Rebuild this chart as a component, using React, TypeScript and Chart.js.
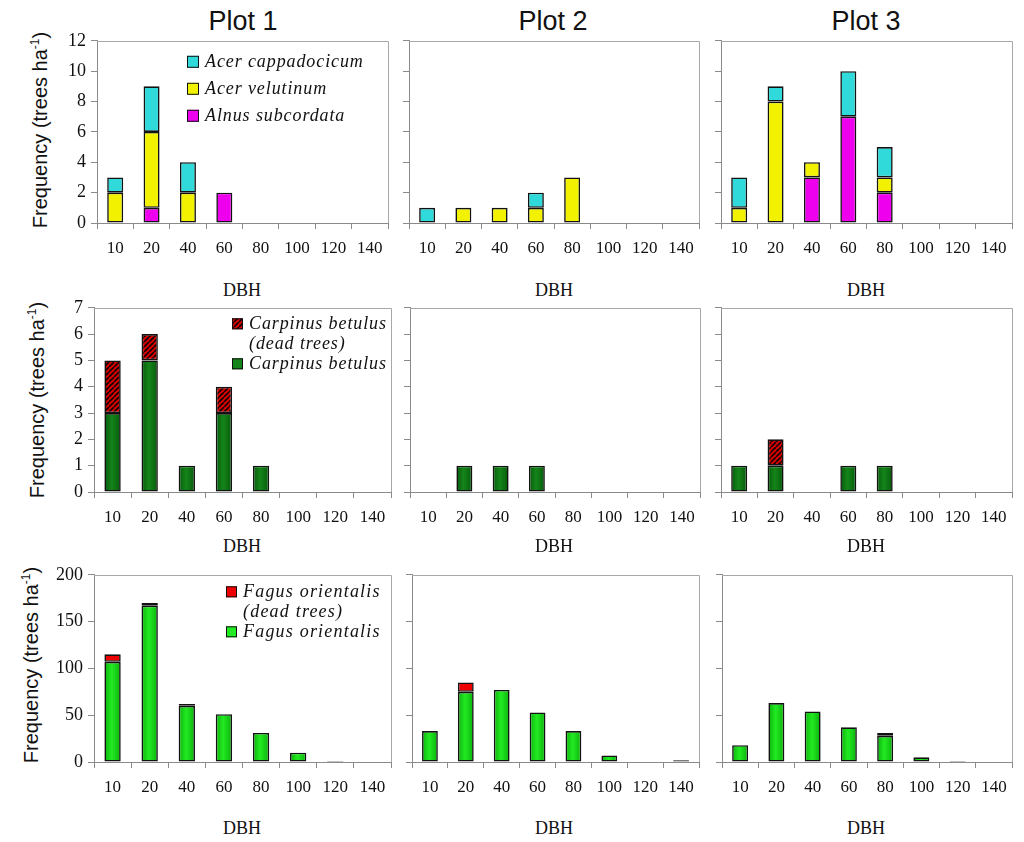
import React, { useEffect, useRef } from 'react';
import { Chart, registerables } from 'chart.js';

Chart.register(...registerables);

// DBH classes (cm), shared by all nine panels
const DBH_CLASSES = ['10', '20', '40', '60', '80', '100', '120', '140'];

// Row 1 - Acer / Alnus (trees ha-1)
const ALNUS_P1 = [0, 1, 0, 2, 0, 0, 0, 0];
const ALNUS_P2 = [0, 0, 0, 0, 0, 0, 0, 0];
const ALNUS_P3 = [0, 0, 3, 7, 2, 0, 0, 0];
const VELUTINUM_P1 = [2, 5, 2, 0, 0, 0, 0, 0];
const VELUTINUM_P2 = [0, 1, 1, 1, 3, 0, 0, 0];
const VELUTINUM_P3 = [1, 8, 1, 0, 1, 0, 0, 0];
const CAPPADOCICUM_P1 = [1, 3, 2, 0, 0, 0, 0, 0];
const CAPPADOCICUM_P2 = [1, 0, 0, 1, 0, 0, 0, 0];
const CAPPADOCICUM_P3 = [2, 1, 0, 3, 2, 0, 0, 0];

// Row 2 - Carpinus betulus, live and dead
const CARPINUS_P1 = [3, 5, 1, 3, 1, 0, 0, 0];
const CARPINUS_P2 = [0, 1, 1, 1, 0, 0, 0, 0];
const CARPINUS_P3 = [1, 1, 0, 1, 1, 0, 0, 0];
const CARPINUS_DEAD_P1 = [2, 1, 0, 1, 0, 0, 0, 0];
const CARPINUS_DEAD_P2 = [0, 0, 0, 0, 0, 0, 0, 0];
const CARPINUS_DEAD_P3 = [0, 1, 0, 0, 0, 0, 0, 0];

// Row 3 - Fagus orientalis, live and dead
const FAGUS_P1 = [107, 167, 60, 51, 31, 10, 1, 0];
const FAGUS_P2 = [33, 75, 77, 53, 33, 7, 0, 2];
const FAGUS_P3 = [18, 63, 54, 37, 28, 5, 1, 0];
const FAGUS_DEAD_P1 = [8, 3, 2, 0, 0, 0, 0, 0];
const FAGUS_DEAD_P2 = [0, 10, 0, 0, 0, 0, 0, 0];
const FAGUS_DEAD_P3 = [0, 0, 0, 0, 3, 0, 0, 0];

// y axis ranges per row
const ROW_Y_MAX = [12, 7, 200];
const ROW_Y_STEP = [2, 1, 50];

const PLOT_TITLES = ['Plot 1', 'Plot 2', 'Plot 3'];

// ---- look & layout ----
const SERIF = '"Liberation Serif", "Times New Roman", serif';
const SANS = '"Liberation Sans", Arial, sans-serif';
const INK = '#111';
const AXIS_GREY = '#8a8a8a';
const FRAME_GREY = '#a8a8a8';
const BAR_FRACTION = 0.44;

const PAD_L = 70; // room for the y axis
const PAD_T = 12;
const PAD_R = 14;
const AXIS_H = 44;

// plot areas [left, top, right, bottom], row by row
const PANEL_RECTS = [
  [[97, 37, 388, 223], [409, 37, 699, 223], [721, 37, 1012, 223]],
  [[94, 304, 391, 492], [410, 304, 700, 492], [721, 304, 1012, 492]],
  [[94, 571, 391, 762], [412, 571, 699, 762], [722, 571, 1012, 762]],
];

type Style = 'flat' | 'shaded' | 'hatch';
type Layer = { label: string; values: number[]; color: string; edge?: string; style: Style };
type LegendSpec = { x: number; y: number; lineHeight: number; box: number; spacing: number };

let hatchCache: CanvasPattern | null = null;
function hatch(): CanvasPattern | string {
  if (hatchCache) return hatchCache;
  const c = document.createElement('canvas');
  c.width = 5;
  c.height = 5;
  const g = c.getContext('2d');
  if (!g) return '#c00000';
  g.fillStyle = '#dc0000';
  g.fillRect(0, 0, 5, 5);
  g.strokeStyle = '#1a0202';
  g.lineWidth = 1.7;
  g.beginPath();
  for (const o of [-5, 0, 5]) {
    g.moveTo(o, 5);
    g.lineTo(o + 5, 0);
  }
  g.stroke();
  hatchCache = g.createPattern(c, 'repeat');
  return hatchCache ?? '#c00000';
}

// horizontal gradient across each bar, darker at the sides
function shaded(mid: string, edge: string) {
  return (ctx: any) => {
    const chart = ctx.chart;
    const x = chart.scales && chart.scales.x;
    if (!chart.chartArea || !x || ctx.type !== 'data') return mid;
    const cx = x.getPixelForValue(ctx.dataIndex);
    const half = ((x.width / DBH_CLASSES.length) * BAR_FRACTION) / 2;
    const g = chart.ctx.createLinearGradient(cx - half, 0, cx + half, 0);
    g.addColorStop(0, edge);
    g.addColorStop(0.45, mid);
    g.addColorStop(1, edge);
    return g;
  };
}

function fillFor(layer: Layer): any {
  if (layer.style === 'hatch') return hatch();
  if (layer.style === 'shaded' && layer.edge) return shaded(layer.color, layer.edge);
  return layer.color;
}

const frame = {
  id: 'frame',
  beforeDatasetsDraw(chart: any) {
    const { ctx, chartArea: a } = chart;
    ctx.save();
    ctx.strokeStyle = FRAME_GREY;
    ctx.lineWidth = 1;
    ctx.beginPath();
    ctx.moveTo(a.left, Math.round(a.top) + 0.5);
    ctx.lineTo(Math.round(a.right) + 0.5, Math.round(a.top) + 0.5);
    ctx.lineTo(Math.round(a.right) + 0.5, a.bottom);
    ctx.stroke();
    ctx.restore();
  },
};

function insideLegend(spec: LegendSpec, layers: Layer[]) {
  return {
    id: 'insideLegend',
    afterDatasetsDraw(chart: any) {
      const { ctx, chartArea } = chart;
      ctx.save();
      ctx.font = `italic 18px ${SERIF}`;
      ctx.textBaseline = 'middle';
      if ('letterSpacing' in ctx) ctx.letterSpacing = `${spec.spacing}px`;
      const bx = chartArea.left + spec.x;
      let y = chartArea.top + spec.y;
      for (const layer of layers) {
        ctx.fillStyle = layer.style === 'hatch' ? hatch() : layer.color;
        ctx.fillRect(bx, y - spec.box / 2, spec.box, spec.box);
        ctx.strokeStyle = INK;
        ctx.lineWidth = 1;
        ctx.strokeRect(bx + 0.5, y - spec.box / 2 + 0.5, spec.box - 1, spec.box - 1);
        ctx.fillStyle = INK;
        for (const line of layer.label.split('\n')) {
          ctx.fillText(line, bx + spec.box + 6, y);
          y += spec.lineHeight;
        }
      }
      ctx.restore();
    },
  };
}

interface PanelProps {
  rect: number[];
  layers: Layer[];
  yMax: number;
  yStep: number;
  showY: boolean;
  legend?: LegendSpec;
}

const Panel: React.FC<PanelProps> = ({ rect, layers, yMax, yStep, showY, legend }) => {
  const canvasRef = useRef<HTMLCanvasElement>(null);

  useEffect(() => {
    if (!canvasRef.current) return;
    const plugins: any[] = [frame];
    if (legend) plugins.push(insideLegend(legend, [...layers].reverse()));

    const chart = new Chart(canvasRef.current, {
      type: 'bar',
      data: {
        labels: DBH_CLASSES,
        datasets: layers.map((l) => ({
          label: l.label,
          data: l.values,
          backgroundColor: fillFor(l),
          borderColor: '#121212',
          borderWidth: 1.6,
          borderSkipped: false,
          barPercentage: BAR_FRACTION,
          categoryPercentage: 1,
        })),
      },
      options: {
        responsive: false,
        animation: false,
        events: [],
        layout: { padding: { top: PAD_T, right: PAD_R, left: 0, bottom: 0 } },
        plugins: { legend: { display: false }, tooltip: { enabled: false } },
        scales: {
          x: {
            stacked: true,
            offset: true,
            grid: { offset: true, drawOnChartArea: false, tickLength: 6, color: AXIS_GREY },
            border: { color: AXIS_GREY },
            ticks: { color: INK, font: { family: SERIF, size: 17 }, padding: 9, maxRotation: 0, autoSkip: false },
            afterFit: (s: any) => { s.height = AXIS_H; },
          },
          y: {
            stacked: true,
            min: 0,
            max: yMax,
            grid: { drawOnChartArea: false, tickLength: 6, color: AXIS_GREY },
            border: { color: AXIS_GREY },
            ticks: {
              stepSize: yStep,
              color: INK,
              font: { family: SERIF, size: 18 },
              padding: 5,
              callback: (v: any) => (showY ? v : ''),
            },
            afterFit: (s: any) => { s.width = PAD_L; },
          },
        },
      },
      plugins,
    });

    return () => chart.destroy();
  }, []);

  const [L, T, R, B] = rect;
  const w = R - L + PAD_L + PAD_R;
  const h = B - T + PAD_T + AXIS_H;
  return (
    <canvas
      ref={canvasRef}
      width={w}
      height={h}
      style={{ position: 'absolute', left: L - PAD_L, top: T - PAD_T, width: w, height: h }}
    />
  );
};

const Label: React.FC<{ x: number; y: number; font: string; rotate?: boolean; children: React.ReactNode }> = ({
  x, y, font, rotate, children,
}) => (
  <div
    style={{
      position: 'absolute',
      left: x,
      top: y,
      transform: `translate(-50%, -50%)${rotate ? ' rotate(-90deg)' : ''}`,
      whiteSpace: 'nowrap',
      font,
      color: INK,
      lineHeight: 1,
    }}
  >
    {children}
  </div>
);

const ROW_LAYERS: Layer[][][] = [
  [ALNUS_P1, ALNUS_P2, ALNUS_P3].map((alnus, i) => [
    { label: 'Alnus subcordata', values: alnus, color: '#ee00ee', style: 'flat' },
    { label: 'Acer velutinum', values: [VELUTINUM_P1, VELUTINUM_P2, VELUTINUM_P3][i], color: '#f2f200', style: 'flat' },
    { label: 'Acer cappadocicum', values: [CAPPADOCICUM_P1, CAPPADOCICUM_P2, CAPPADOCICUM_P3][i], color: '#30dada', style: 'flat' },
  ]),
  [CARPINUS_P1, CARPINUS_P2, CARPINUS_P3].map((live, i) => [
    { label: 'Carpinus betulus', values: live, color: '#14851a', edge: '#075a0b', style: 'shaded' },
    { label: 'Carpinus betulus\n(dead trees)', values: [CARPINUS_DEAD_P1, CARPINUS_DEAD_P2, CARPINUS_DEAD_P3][i], color: '#d60000', style: 'hatch' },
  ]),
  [FAGUS_P1, FAGUS_P2, FAGUS_P3].map((live, i) => [
    { label: 'Fagus orientalis', values: live, color: '#22ea22', edge: '#0bb20b', style: 'shaded' },
    { label: 'Fagus orientalis\n(dead trees)', values: [FAGUS_DEAD_P1, FAGUS_DEAD_P2, FAGUS_DEAD_P3][i], color: '#ee0000', style: 'flat' },
  ]),
];

const ROW_LEGENDS: LegendSpec[] = [
  { x: 90, y: 21, lineHeight: 27, box: 12, spacing: 0.9 },
  { x: 138, y: 16, lineHeight: 20, box: 11, spacing: 0.9 },
  { x: 132, y: 17, lineHeight: 20, box: 11, spacing: 1.2 },
];

const TITLE_POS = [[243, 21], [553, 21], [866, 21]];
const YTITLE_POS = [[40, 130], [37, 400], [31, 665]];
const DBH_X = [242, 554, 866];
const DBH_Y = [290, 546, 828];

export default function App() {
  useEffect(() => {
    document.body.style.margin = '0';
  }, []);

  return (
    <div style={{ position: 'relative', width: 1024, height: 842, background: '#fff', overflow: 'hidden' }}>
      {PLOT_TITLES.map((t, c) => (
        <Label key={t} x={TITLE_POS[c][0]} y={TITLE_POS[c][1]} font={`27px ${SANS}`}>
          {t}
        </Label>
      ))}
      {ROW_LAYERS.map((row, r) => (
        <React.Fragment key={r}>
          <Label x={YTITLE_POS[r][0]} y={YTITLE_POS[r][1]} font={`20px ${SANS}`} rotate>
            Frequency (trees ha
            <sup style={{ fontSize: 12, verticalAlign: 'super', lineHeight: 0 }}>-1</sup>)
          </Label>
          {row.map((layers, c) => (
            <React.Fragment key={c}>
              <Panel
                rect={PANEL_RECTS[r][c]}
                layers={layers}
                yMax={ROW_Y_MAX[r]}
                yStep={ROW_Y_STEP[r]}
                showY={c === 0}
                legend={c === 0 ? ROW_LEGENDS[r] : undefined}
              />
              <Label x={DBH_X[c]} y={DBH_Y[r]} font={`18px ${SERIF}`}>
                DBH
              </Label>
            </React.Fragment>
          ))}
        </React.Fragment>
      ))}
    </div>
  );
}
